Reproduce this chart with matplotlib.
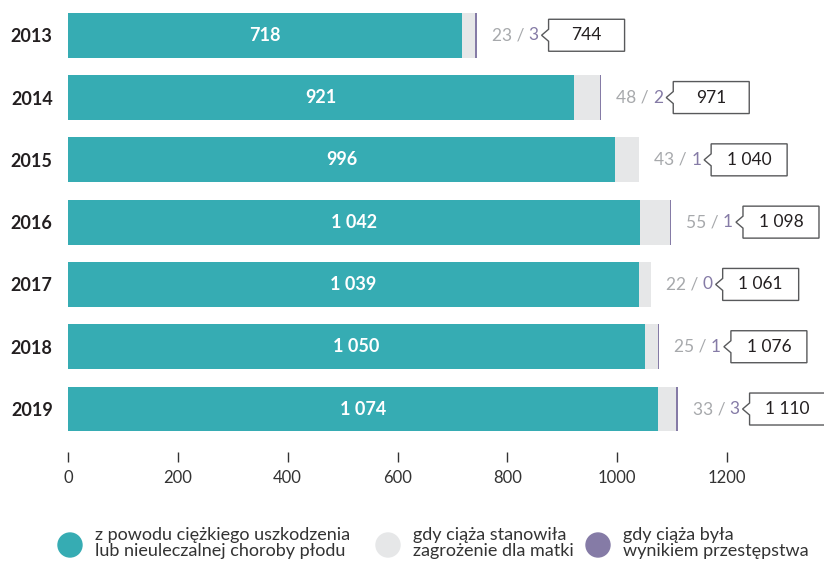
import matplotlib
matplotlib.use("Agg")
import matplotlib.pyplot as plt
import matplotlib.patches as mpatches

plt.rcParams['font.family'] = ['Lato', 'DejaVu Sans']

years = ['2013', '2014', '2015', '2016', '2017', '2018', '2019']
plod = [718, 921, 996, 1042, 1039, 1050, 1074]
matka = [23, 48, 43, 55, 22, 25, 33]
przest = [3, 2, 1, 1, 0, 1, 3]
totals = [744, 971, 1040, 1098, 1061, 1076, 1110]

teal = '#36acb3'
grey = '#e6e7e8'
purple = '#857ba6'

W, H = 824, 561
fig = plt.figure(figsize=(W / 100, H / 100), dpi=100)
# axes: x=0 at 68px, 1200 at 727px
xmax = 1380
ppu = (727 - 68) / 1200.0
ax_w = xmax * ppu
ax = fig.add_axes([68 / W, (H - 452) / H, ax_w / W, 451 / H])
ax.set_xlim(0, xmax)
ax.set_ylim(6.69, -0.55)
ypx = 62.33  # pixels per bar slot

y = list(range(len(years)))
h = 0.72
ax.barh(y, plod, height=h, color=teal)
ax.barh(y, matka, left=plod, height=h, color=grey)
left3 = [a + b for a, b in zip(plod, matka)]
ax.barh(y, przest, left=left3, height=h, color=purple)

for i in y:
    ax.text(plod[i] / 2, i, f"{plod[i]:,}".replace(',', ' '), ha='center', va='center',
            color='white', fontsize=13, fontweight='bold')
    end = totals[i]
    # grey / purple note
    x0 = end + 15 / ppu
    t1 = ax.text(x0, i, f"{matka[i]} / ", ha='left', va='center', color='#a7a9ac', fontsize=12.5)
    ax.annotate(f"{przest[i]}", xy=(1, 0.5), xycoords=t1, ha='left', va='center',
                color=purple, fontsize=12.5)
    # callout box
    bx = end + 72 / ppu
    bw = 76 / ppu
    bh = 16 / ypx
    tip = 7 / ppu
    notch = 6 / ypx
    verts = [(bx, i - bh), (bx + bw, i - bh), (bx + bw, i + bh), (bx, i + bh),
             (bx, i + notch), (bx - tip, i), (bx, i - notch)]
    ax.add_patch(mpatches.Polygon(verts, closed=True, facecolor='white',
                                  edgecolor='#58595b', linewidth=1, clip_on=False))
    ax.text(bx + bw / 2, i, f"{end:,}".replace(',', ' '), ha='center', va='center',
            color='#231f20', fontsize=12.5)

ax.set_yticks(y)
ax.set_yticklabels(years, fontsize=13, fontweight='bold', color='#231f20')
ax.tick_params(axis='y', length=0, pad=11)
ax.set_xticks([0, 200, 400, 600, 800, 1000, 1200])
ax.tick_params(axis='x', length=7, width=1, color='#333333', pad=6,
               labelsize=12, labelcolor='#333333')
for s in ax.spines.values():
    s.set_visible(False)

# legend
leg = [(70, teal, "z powodu ciężkiego uszkodzenia\nlub nieuleczalnej choroby płodu"),
       (388, grey, "gdy ciąża stanowiła\nzagrożenie dla matki"),
       (598, purple, "gdy ciąża była\nwynikiem przestępstwa")]
for cx, col, lab in leg:
    fig.add_artist(mpatches.Ellipse((cx / W, 1 - 545 / H), 24 / W, 24 / H,
                                    transform=fig.transFigure, color=col))
    fig.text((cx + 25) / W, 1 - 543 / H, lab, ha='left', va='center', fontsize=13,
             color='#333333', linespacing=1.05)

fig.savefig('out.png', dpi=100)
